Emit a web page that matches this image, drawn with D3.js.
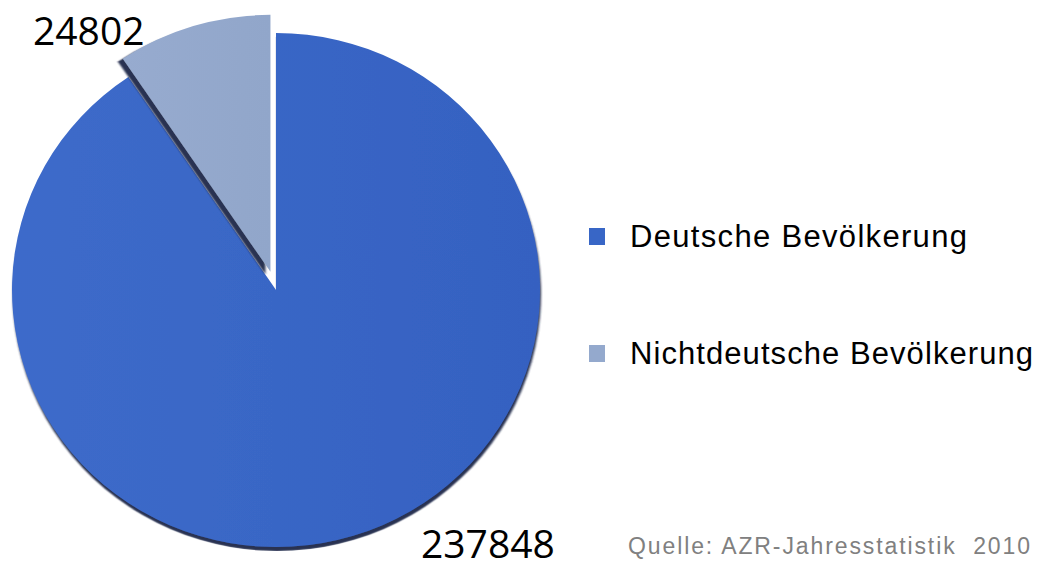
<!DOCTYPE html>
<html>
<head>
<meta charset="utf-8">
<script src="https://cdn.jsdelivr.net/npm/d3@7"></script>
<style>
  body { margin: 0; background: #fff; }
  svg { display: block; }
</style>
</head>
<body>
<svg id="chart" width="1042" height="569"></svg>
<script>
// data
var categories = ["Deutsche Bevölkerung", "Nichtdeutsche Bevölkerung"];
var values = [237848, 24802];
var colors = ["#3866c6", "#94a9cd"];
var source = "Quelle: AZR-Jahresstatistik  2010";

var width = 1042, height = 569;
var cx = 276, cy = 290;
var rx = 264, ry = 257;
var explode = 19;

var svg = d3.select("#chart");
var defs = svg.append("defs");

// shadows like the office chart
function shadow(id, dx, dy) {
    var f = defs.append("filter").attr("id", id)
        .attr("x", "-10%").attr("y", "-10%").attr("width", "120%").attr("height", "120%");
    f.append("feDropShadow").attr("dx", dx).attr("dy", dy).attr("stdDeviation", 0.8)
        .attr("flood-color", "#1a2748").attr("flood-opacity", 0.95);
}
shadow("shadow0", 1, 4);
shadow("shadow1", -5, 3);

var g1 = defs.append("linearGradient").attr("id", "gBlue")
    .attr("x1", "0%").attr("x2", "100%").attr("y1", "0%").attr("y2", "0%");
g1.append("stop").attr("offset", "0%").attr("stop-color", "#3d6bca");
g1.append("stop").attr("offset", "100%").attr("stop-color", "#3561c1");
var g2 = defs.append("linearGradient").attr("id", "gGrey")
    .attr("x1", "0%").attr("x2", "100%").attr("y1", "0%").attr("y2", "0%");
g2.append("stop").attr("offset", "0%").attr("stop-color", "#97abcf");
g2.append("stop").attr("offset", "100%").attr("stop-color", "#91a6ca");
var fills = ["url(#gBlue)", "url(#gGrey)"];

var pie = d3.pie().sort(null);
var arcs = pie(values);
var arc = d3.arc().innerRadius(0).outerRadius(rx);

var pieG = svg.append("g")
    .attr("transform", "translate(" + cx + "," + cy + ") scale(1," + (ry / rx) + ")");

pieG.selectAll("path")
    .data(arcs)
    .enter()
    .append("path")
    .attr("d", arc)
    .attr("fill", function (d, i) { return fills[i]; })
    .attr("filter", function (d, i) { return "url(#shadow" + i + ")"; })
    .attr("transform", function (d, i) {
        if (i == 0) return "translate(0,0)";
        var a = (d.startAngle + d.endAngle) / 2;
        return "translate(" + (Math.sin(a) * explode) + "," + (-Math.cos(a) * explode * rx / ry) + ")";
    });

// stretch text to the width seen in the picture
function fitWidth(sel, target) {
    sel.each(function () {
        var n = this.getNumberOfChars();
        var w = this.getComputedTextLength();
        d3.select(this).style("letter-spacing", ((target - w) / (n - 1)) + "px");
    });
}

// value labels
var labelFont = "'Open Sans', sans-serif";
svg.append("text")
    .attr("x", 33).attr("y", 45)
    .style("font-family", labelFont).style("font-size", "39px").attr("fill", "#000")
    .text(values[1]);
svg.append("text")
    .attr("x", 421).attr("y", 558)
    .style("font-family", labelFont).style("font-size", "39px").attr("fill", "#000")
    .text(values[0]);

// legend
var legendW = [337, 403];
var legend = svg.append("g").selectAll("g")
    .data(categories)
    .enter()
    .append("g")
    .attr("transform", function (d, i) { return "translate(589," + (228 + i * 117) + ")"; });
legend.append("rect")
    .attr("width", 16).attr("height", 17)
    .attr("fill", function (d, i) { return colors[i]; });
legend.append("text")
    .attr("x", 41).attr("y", 19)
    .style("font-family", "'Liberation Sans', Arial, sans-serif")
    .style("font-size", "31px").attr("fill", "#000")
    .text(function (d) { return d; })
    .each(function (d, i) { fitWidth(d3.select(this), legendW[i]); });

svg.append("text")
    .attr("x", 628).attr("y", 554)
    .style("font-family", "'Liberation Sans', Arial, sans-serif")
    .style("font-size", "23px").style("white-space", "pre").attr("fill", "#808080")
    .text(source)
    .call(fitWidth, 402);
</script>
</body>
</html>
